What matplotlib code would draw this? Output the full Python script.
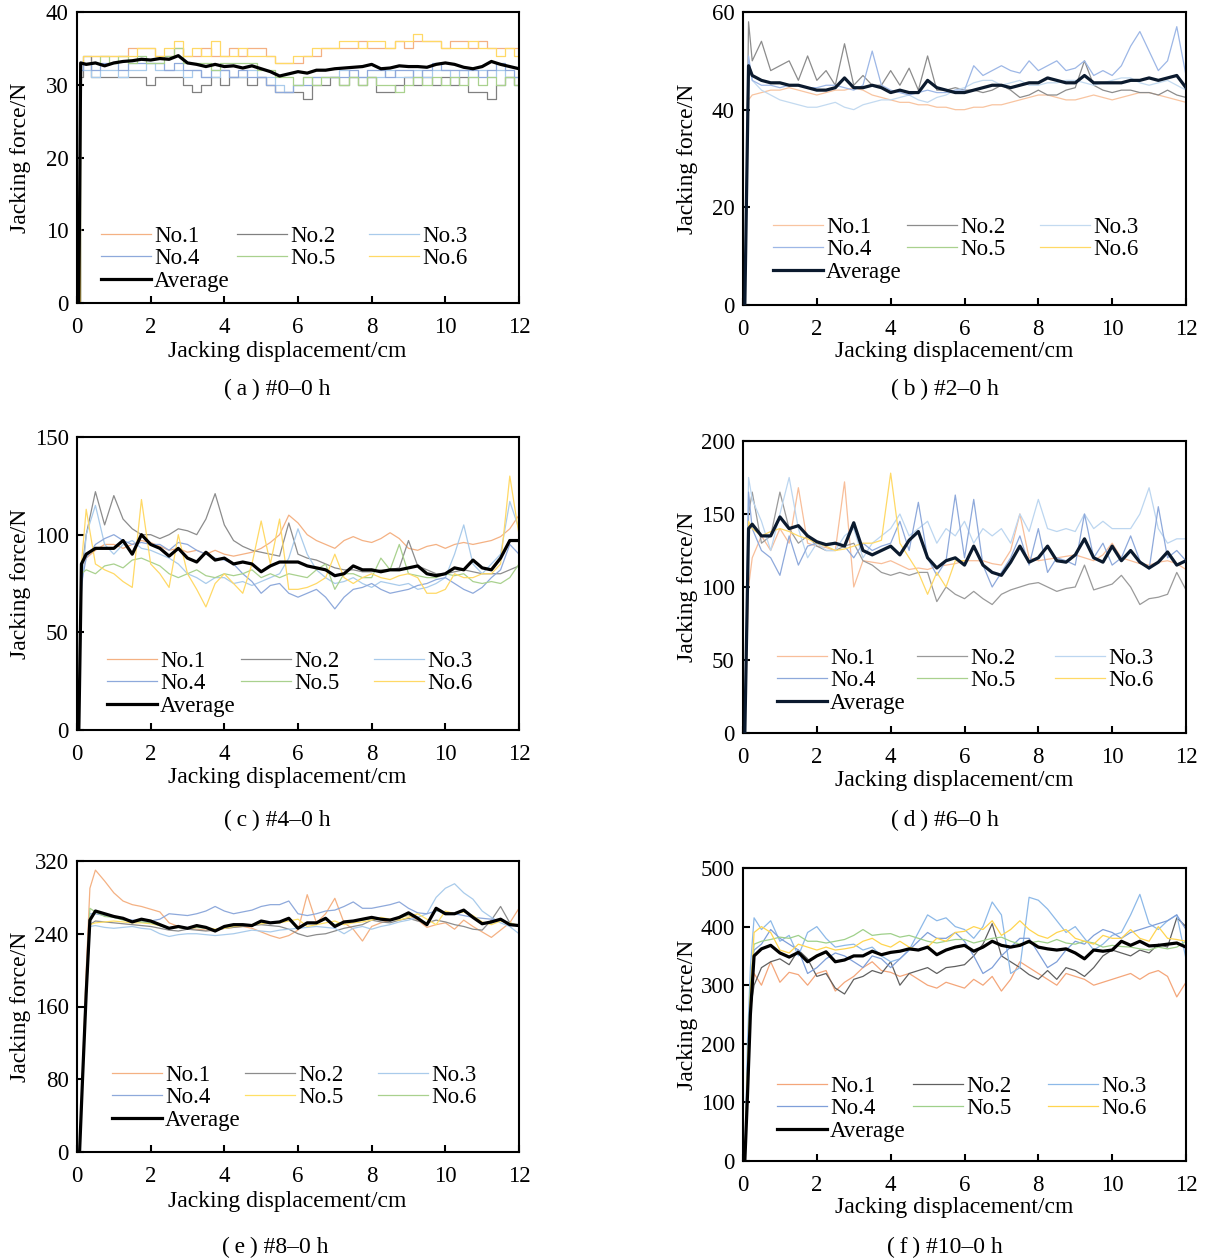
import numpy as np
import matplotlib
matplotlib.use("Agg")
import matplotlib.pyplot as plt

plt.rcParams['font.family'] = ['Liberation Serif', 'DejaVu Serif']
plt.rcParams['font.size'] = 16
nan = np.nan

# ---------------- shared x grids (cm) ----------------
G025 = [round(0.25 * k, 2) for k in range(1, 49)]   # 0.25 .. 12.0
G05 = [round(0.25 * k, 2) for k in range(2, 49)]    # 0.50 .. 12.0
X_A = [0.05, 0.10] + G025
X_B = [0.05, 0.15] + G025
X_C = [0.05, 0.12] + G025
X_D = [0.05, 0.15] + G025
X_E = [0.07, 0.15, 0.25, 0.35] + G05
X_F = [0.05, 0.12, 0.20, 0.30] + G05

LABELS = ["No.1", "No.2", "No.3", "No.4", "No.5", "No.6", "Average"]
CAPTIONS = ["(\u2009a\u2009) #0\u20130 h", "(\u2009b\u2009) #2\u20130 h",
            "(\u2009c\u2009) #4\u20130 h", "(\u2009d\u2009) #6\u20130 h",
            "(\u2009e\u2009) #8\u20130 h", "(\u2009f\u2009) #10\u20130 h"]
XLABEL = "Jacking displacement/cm"
YLABEL = "Jacking force/N"
XTICKS = [0, 2, 4, 6, 8, 10, 12]

# ---------------- (a) #0-0 h ----------------
A1 = [0, 33,
      33, 34, 34, 34, 34, 35, 35, 35, 34, 34,
      35, 34, 34, 35, 34, 34, 35, 34, 35, 35,
      34, 33, 33, 33, 34, 34, 35, 35, 35, 35,
      36, 35, 35, 35, 36, 35, 36, 36, 36, 35,
      36, 36, 35, 36, 35, 35, 35, 35]
A2 = [0, 31,
      34, 31, 31, 31, 31, 31, 31, 30, 31, 31,
      31, 30, 29, 30, 31, 30, 31, 31, 30, 31,
      30, 29, 29, 29, 28, 30, 30, 31, 30, 31,
      30, 31, 29, 29, 30, 31, 30, 31, 30, 31,
      30, 31, 29, 29, 28, 30, 31, 30]
A3 = [0, 32,
      32, 31, 32, 32, 31, 32, 32, 33, 32, 32,
      32, 31, 32, 31, 31, 32, 31, 31, 32, 31,
      31, 30, 29, 30, 31, 31, 31, 31, 32, 31,
      31, 31, 31, 32, 31, 31, 32, 31, 32, 32,
      31, 32, 31, 32, 31, 32, 31, 31]
A4 = [0, 32,
      33, 32, 33, 33, 32, 33, 33, 33, 33, 32,
      33, 32, 32, 31, 32, 32, 31, 32, 31, 31,
      30, 29, 29, 30, 30, 31, 31, 31, 31, 32,
      31, 32, 32, 31, 32, 32, 31, 32, 33, 32,
      32, 32, 32, 31, 32, 33, 32, 31]
A5 = [0, 33,
      33, 33, 34, 33, 34, 33, 34, 33, 33, 34,
      35, 33, 33, 33, 32, 33, 33, 33, 33, 32,
      32, 31, 31, 30, 31, 30, 31, 31, 30, 31,
      30, 31, 30, 30, 29, 30, 31, 30, 31, 30,
      31, 30, 31, 30, 31, 30, 31, 30]
A6 = [0, 33,
      34, 34, 34, 34, 34, 34, 35, 35, 34, 35,
      36, 34, 35, 34, 36, 34, 34, 35, 34, 34,
      34, 33, 33, 34, 34, 35, 35, 35, 36, 36,
      35, 36, 36, 35, 36, 36, 37, 36, 36, 35,
      35, 35, 36, 35, 35, 34, 35, 34]
A_AVG = [0, 33,
         32.8, 33.0, 32.6, 33.0, 33.2, 33.3, 33.5, 33.4, 33.6, 33.5,
         34.0, 33.0, 32.8, 32.5, 32.8, 32.5, 32.6, 32.3, 32.6, 32.2,
         31.8, 31.2, 31.5, 31.8, 31.6, 32.0, 32.0, 32.2, 32.3, 32.4,
         32.5, 32.8, 32.2, 32.3, 32.6, 32.5, 32.5, 32.4, 32.8, 33.0,
         32.8, 32.4, 32.2, 32.5, 33.2, 32.8, 32.5, 32.2]

# ---------------- (b) #2-0 h ----------------
B1 = [0, 42,
      43, 43.5, 44, 44, 44.5, 44, 43.5, 43, 43.5, 44,
      44, 44.5, 44, 43, 42.5, 42, 41.5, 41.5, 41, 41,
      40.5, 40.5, 40, 40, 40.5, 40.5, 41, 41, 41.5, 42,
      42.5, 43, 43, 42.5, 42, 42, 42.5, 43, 42.5, 42,
      42.5, 43, 43.5, 43.5, 43, 42.5, 42, 41.5]
B2 = [0, 58,
      50, 54, 48, 49, 50, 46, 51, 46, 48, 45,
      53.5, 45, 47, 45, 45, 48, 45, 48.5, 44, 51,
      44, 44, 44.5, 44, 44, 43.5, 44, 45, 44, 42.5,
      43, 44, 43, 43, 44, 44.5, 50, 45, 44, 43.5,
      44, 44, 43.5, 43.5, 43, 44, 43, 42.5]
B3 = [0, 50,
      46, 44, 43, 42, 41.5, 41, 40.5, 40.5, 41, 41.5,
      40.5, 40, 41, 41.5, 42, 42, 42.5, 43, 42, 41.5,
      42.5, 43, 44, 44.5, 45.5, 46, 46, 45, 45.5, 46,
      45, 45, 45.5, 45.5, 46, 46, 45.5, 45, 45.5, 46,
      46.5, 46.5, 45.5, 45, 45.5, 46, 45, 44]
B4 = [0, 51,
      46, 45, 45, 44.5, 45, 45, 44.5, 44.5, 45, 45,
      44.5, 44, 45, 52, 45, 44, 43.5, 43, 43.5, 44,
      43.5, 43.5, 44, 44, 49, 47, 48, 49, 48, 47.5,
      50, 48, 49, 50, 48, 48.5, 50, 47, 48, 47,
      49, 53, 56, 52, 48, 50, 57, 47]
B5 = []
B6 = []
B_AVG = [0, 49,
         47, 46, 45.5, 45.5, 45, 45, 44.5, 44, 44, 44.5,
         46.5, 44.5, 44.5, 45, 44.5, 43.5, 44, 43.5, 43.5, 46,
         44.5, 44, 43.5, 43.5, 44, 44.5, 45, 45, 44.5, 45,
         45.5, 45.5, 46.5, 46, 45.5, 45.5, 47, 45.5, 45.5, 45.5,
         45.5, 46, 46, 46.5, 46, 46.5, 47, 44.5]

# ---------------- (c) #4-0 h ----------------
C1 = [0, 80,
      88, 92, 95, 95, 93, 95, 97, 96, 94, 92,
      93, 91, 92, 90, 92, 90, 89, 90, 91, 93,
      96, 100, 110, 106, 100, 97, 95, 93, 97, 99,
      97, 96, 98, 101, 98, 93, 92, 94, 95, 93,
      95, 96, 95, 96, 97, 99, 103, 110]
C2 = [0, 80,
      100, 122, 105, 120, 108, 103, 100, 100, 98, 100,
      103, 102, 100, 108, 121, 105, 97, 94, 92, 91,
      90, 89, 106, 90, 88, 87, 85, 83, 82, 82,
      81, 81, 82, 82, 83, 97, 84, 82, 80, 80,
      81, 82, 81, 80, 80, 80, 82, 84]
C3 = [0, 70,
      100, 115, 95, 90, 95, 97, 93, 92, 90, 88,
      85, 80, 78, 75, 78, 78, 75, 76, 74, 76,
      78, 80, 88, 103, 90, 82, 78, 75, 76, 78,
      75, 73, 76, 75, 74, 75, 72, 73, 75, 78,
      90, 105, 85, 80, 85, 90, 117, 103]
C4 = [0, 75,
      88, 95, 98, 100, 97, 95, 96, 95, 95, 92,
      96, 95, 92, 90, 88, 87, 85, 80, 76, 70,
      74, 75, 70, 68, 70, 72, 68, 62, 68, 72,
      73, 75, 72, 70, 71, 72, 74, 75, 77, 78,
      75, 72, 70, 73, 78, 82, 95, 90]
C5 = [0, 80,
      82, 80, 84, 85, 83, 87, 88, 86, 84, 80,
      78, 80, 82, 79, 78, 80, 79, 80, 82, 78,
      80, 78, 80, 79, 78, 82, 85, 72, 80, 80,
      78, 78, 88, 82, 95, 80, 79, 78, 78, 80,
      79, 80, 76, 75, 76, 75, 78, 85]
C6 = [0, 85,
      113, 85, 82, 80, 76, 73, 118, 85, 80, 73,
      100, 80, 72, 63, 75, 80, 75, 70, 85, 107,
      85, 108, 72, 72, 73, 75, 78, 90, 78, 75,
      78, 80, 78, 77, 79, 80, 78, 70, 70, 72,
      80, 78, 78, 80, 80, 85, 130, 100]
C_AVG = [0, 85,
         90, 93, 93, 93, 97, 90, 100, 95, 93, 89,
         93, 88, 86, 91, 87, 88, 85, 86, 85, 81,
         84, 86, 86, 86, 84, 83, 82, 79, 80, 84,
         82, 82, 81, 82, 82, 83, 84, 80, 79, 80,
         83, 82, 87, 83, 82, 88, 97, 97]

# ---------------- (d) #6-0 h ----------------
D1 = [0, 100,
      120, 135, 125, 140, 130, 168, 130, 128, 127, 125,
      172, 100, 118, 117, 116, 118, 115, 112, 113, 112,
      114, 115, 116, 118, 118, 118, 116, 115, 125, 150,
      120, 118, 119, 120, 121, 122, 120, 118, 122, 130,
      120, 118, 116, 115, 117, 118, 116, 112]
D2 = [0, 150,
      165, 130, 135, 165, 140, 130, 135, 128, 125, 125,
      128, 130, 118, 115, 110, 108, 110, 108, 110, 110,
      90, 100, 95, 92, 97, 92, 88, 95, 98, 100,
      102, 103, 100, 97, 99, 100, 115, 98, 100, 102,
      108, 100, 88, 92, 93, 95, 110, 98]
D3 = [0, 175,
      160, 145, 125, 150, 175, 140, 120, 130, 125, 125,
      135, 140, 120, 130, 135, 140, 150, 135, 140, 145,
      130, 140, 135, 145, 130, 140, 135, 140, 130, 150,
      138, 160, 140, 138, 140, 138, 150, 140, 145, 140,
      140, 140, 150, 168, 140, 130, 133, 133]
D4 = [0, 165,
      140, 125, 120, 108, 135, 115, 128, 130, 128, 130,
      128, 120, 130, 125, 128, 130, 145, 125, 158, 120,
      108, 118, 163, 120, 160, 115, 100, 110, 120, 135,
      115, 140, 110, 120, 118, 115, 150, 120, 130, 115,
      120, 135, 118, 112, 155, 120, 125, 118]
D5 = []
D6 = [0, 145,
      140, 135, 138, 140, 138, 135, 133, 130, 128, 125,
      126, 128, 130, 130, 132, 178, 130, 120, 110, 95,
      110, 100, 118, 118, nan, nan, nan, nan, nan, nan,
      nan, nan, nan, nan, nan, nan, nan, nan, nan, nan,
      nan, nan, nan, nan, nan, nan, nan, nan]
D_AVG = [0, 140,
         143, 135, 135, 148, 140, 142, 135, 131, 129, 130,
         128, 144, 125, 122, 125, 128, 122, 132, 138, 120,
         113, 118, 120, 115, 128, 115, 110, 108, 117, 128,
         117, 120, 128, 118, 117, 122, 133, 120, 117, 128,
         118, 125, 117, 113, 117, 124, 115, 118]

# ---------------- (e) #8-0 h ----------------
E1 = [0, 90, 200, 290,
      310, 298, 285, 276, 272, 270, 267, 264, 252, 248,
      246, 245, 244, 243, 246, 247, 248, 246, 242, 238,
      235, 238, 244, 283, 252, 262, 279, 252, 245, 232,
      248, 252, 255, 258, 260, 255, 247, 250, 252, 245,
      255, 248, 242, 236, 244, 252, 268]
E2 = [0, 80, 170, 250,
      254, 253, 252, 251, 250, 249, 248, 246, 244, 243,
      245, 244, 243, 244, 246, 247, 248, 249, 250, 249,
      248, 245, 240, 237, 239, 240, 243, 246, 248, 250,
      255, 253, 252, 255, 257, 254, 252, 255, 253, 250,
      248, 245, 244, 255, 270, 252, 248]
E3 = [0, 80, 170, 248,
      249, 247, 246, 247, 248, 246, 245, 240, 237, 239,
      240, 240, 239, 238, 239, 240, 242, 244, 243, 242,
      244, 245, 246, 247, 248, 247, 246, 240, 246, 248,
      245, 248, 250, 253, 255, 258, 262, 280, 290, 295,
      285, 278, 265, 258, 252, 248, 240]
E4 = [0, 85, 180, 262,
      262, 260, 258, 256, 255, 254, 254, 256, 262, 261,
      260, 262, 265, 270, 265, 262, 264, 266, 270, 272,
      272, 276, 262, 260, 262, 265, 266, 270, 275, 268,
      268, 270, 272, 275, 268, 263, 262, 265, 264, 262,
      260, 258, 257, 256, 255, 252, 248]
E5 = [0, 80, 170, 250,
      252, 253, 254, 253, 252, 252, 251, 249, 246, 247,
      246, 247, 247, 245, 246, 248, 249, 250, 251, 252,
      252, 254, 256, 248, 250, 252, 254, 250, 252, 253,
      255, 258, 256, 255, 258, 262, 256, 250, 265, 262,
      264, 260, 253, 250, 254, 252, 249]
E6 = [0, 85, 180, 268,
      264, 259, 258, 255, 254, 253, 252, 249, 246, 247,
      246, 247, 246, 243, 247, 249, 250, 249, 253, 252,
      253, 256, 246, 251, 252, 256, 250, 253, 254, 255,
      257, 256, 255, 257, 261, 257, 251, 266, 262, 262,
      265, 258, 251, 252, 256, 251, 249]
E_AVG = [0, 80, 175, 255,
         265, 262, 259, 257, 253, 256, 254, 250, 246, 248,
         246, 249, 247, 243, 248, 250, 250, 249, 254, 252,
         253, 257, 246, 252, 252, 257, 248, 253, 254, 256,
         258, 256, 255, 258, 263, 257, 250, 268, 262, 262,
         266, 258, 251, 253, 256, 250, 249]

# ---------------- (f) #10-0 h ----------------
F1 = [0, 120, 250, 320,
      300, 340, 305, 322, 318, 300, 320, 325, 290, 305,
      315, 330, 340, 325, 322, 315, 320, 310, 300, 295,
      305, 300, 295, 310, 300, 315, 290, 310, 340, 330,
      320, 310, 300, 320, 315, 310, 300, 305, 310, 315,
      320, 310, 320, 325, 315, 280, 305]
F2 = [0, 140, 260, 300,
      330, 340, 345, 335, 360, 345, 315, 320, 295, 285,
      310, 315, 325, 320, 340, 300, 320, 325, 330, 320,
      330, 332, 335, 350, 370, 405, 350, 340, 330, 318,
      310, 325, 310, 330, 325, 315, 330, 350, 360, 355,
      350, 360, 355, 370, 365, 415, 400]
F3 = [0, 200, 330, 415,
      395, 410, 375, 385, 350, 390, 400, 380, 365, 368,
      370, 360, 365, 350, 340, 345, 360, 390, 420, 410,
      415, 400, 395, 380, 400, 442, 420, 320, 330, 450,
      445, 430, 410, 390, 400, 380, 360, 370, 385, 390,
      420, 455, 405, 395, 410, 420, 345]
F4 = [0, 160, 300, 360,
      370, 395, 380, 370, 360, 320, 330, 345, 355, 350,
      340, 330, 350, 345, 330, 345, 360, 375, 390, 380,
      380, 390, 375, 350, 320, 330, 350, 365, 380, 380,
      355, 330, 340, 360, 375, 370, 385, 395, 390, 380,
      390, 395, 400, 405, 410, 420, 395]
F5 = [0, 150, 300, 370,
      375, 378, 382, 380, 385, 375, 375, 372, 375, 378,
      385, 395, 385, 387, 388, 382, 385, 380, 375, 372,
      375, 378, 378, 372, 376, 380, 382, 375, 370, 372,
      375, 372, 378, 372, 370, 375, 372, 365, 368, 366,
      365, 362, 360, 365, 362, 365, 375]
F6 = [0, 150, 280, 390,
      400, 390, 360, 355, 370, 365, 360, 365, 360, 362,
      365, 375, 380, 370, 365, 375, 365, 360, 365, 380,
      375, 390, 392, 400, 395, 410, 385, 395, 410, 395,
      385, 380, 390, 395, 380, 375, 370, 385, 380, 380,
      395, 380, 375, 400, 380, 378, 375]
F_AVG = [0, 110, 250, 350,
         362, 368, 355, 348, 356, 340, 350, 357, 340, 343,
         350, 350, 358, 352, 356, 358, 362, 360, 365, 352,
         360, 365, 368, 358, 365, 375, 368, 365, 368, 375,
         365, 362, 360, 362, 355, 345, 360, 358, 360, 375,
         368, 375, 367, 368, 370, 372, 365]

YLIMS = [40, 60, 150, 200, 320, 500]
YTICKS = [[0, 10, 20, 30, 40], [0, 20, 40, 60], [0, 50, 100, 150],
          [0, 50, 100, 150, 200], [0, 80, 160, 240, 320],
          [0, 100, 200, 300, 400, 500]]

# ---------------- styling / layout (not data) ----------------
W, H = 1209, 1259
COL_DEFAULT = ['#F4B183', '#8C8C8C', '#A9CBEB', '#8EA9DB', '#A9D18E', '#FFD966']
COLORS = [
    ['#F4B183', '#808080', '#A9CBEB', '#8EA9DB', '#A9D18E', '#FFD966'],
    ['#F8C4A0', '#8C8C8C', '#C3DAF0', '#9DB7E6', '#A9D18E', '#FFD966'],
    COL_DEFAULT,
    ['#F8BE9A', '#9A9A9A', '#BCD6F0', '#8EA9DB', '#A9D18E', '#FFD966'],
    ['#F4B183', '#8C8C8C', '#A9CBEB', '#8EA9DB', '#FFE066', '#A9D18E'],
    ['#F4A67A', '#606060', '#8DB9E8', '#7F9FD9', '#9FD08A', '#FFD54F'],
]
AVG_COLORS = ['#000000', '#0B1A2E', '#000000', '#0B1A2E', '#000000', '#000000']
AX_BOX = [(77, 12, 519, 303), (743, 12, 1186, 305), (77, 437, 519, 730),
          (743, 441, 1186, 733), (77, 861, 519, 1152), (743, 868, 1186, 1161)]
LEG_COLS = [[24, 160, 292], [30, 164, 297], [30, 164, 297],
            [34, 174, 312], [35, 168, 301], [34, 170, 305]]
LEG_ROW1 = [235, 226, 660, 657, 1074, 1085]
CAP_POS = [(277, 389), (945, 389), (277, 820), (945, 820), (275, 1247), (945, 1247)]
XLAB_POS = [(287, 352), (954, 352), (287, 778), (954, 781), (287, 1201), (954, 1208)]
YLAB_X = [21, 687, 21, 687, 21, 687]
FS_LAB = 17
FS_TICK = 16.5
FS_LEG = 16.5

PANELS = [
    (X_A, [A1, A2, A3, A4, A5, A6], A_AVG),
    (X_B, [B1, B2, B3, B4, B5, B6], B_AVG),
    (X_C, [C1, C2, C3, C4, C5, C6], C_AVG),
    (X_D, [D1, D2, D3, D4, D5, D6], D_AVG),
    (X_E, [E1, E2, E3, E4, E5, E6], E_AVG),
    (X_F, [F1, F2, F3, F4, F5, F6], F_AVG),
]

fig = plt.figure(figsize=(W / 100, H / 100), dpi=100)

for i, (xs, series, avg) in enumerate(PANELS):
    l, t, r, b = AX_BOX[i]
    aw, ah = r - l, b - t
    ax = fig.add_axes([l / W, 1 - b / H, aw / W, ah / H])
    handles = []
    for j, ys in enumerate(series):
        xx = xs if len(ys) else []
        if len(ys):
            assert len(ys) == len(xs), (i, j, len(ys), len(xs))
        kw = dict(drawstyle='steps-mid') if i == 0 else {}
        h, = ax.plot(xx, ys, color=COLORS[i][j], lw=0.9, label=LABELS[j], **kw)
        handles.append(h)
    assert len(avg) == len(xs), (i, 'avg', len(avg))
    h, = ax.plot(xs, avg, color=AVG_COLORS[i], lw=2.3, label=LABELS[6], zorder=5)
    handles.append(h)

    ax.set_xlim(0, 12)
    ax.set_ylim(0, YLIMS[i])
    ax.set_xticks(XTICKS)
    ax.set_yticks(YTICKS[i])
    for s in ax.spines.values():
        s.set_linewidth(1.5)
    ax.tick_params(direction='in', length=5, width=1.5, labelsize=FS_TICK,
                   top=False, right=False)
    ax.tick_params(axis='x', pad=10)
    ax.tick_params(axis='y', pad=6)

    ax.set_xlabel(XLABEL, fontsize=FS_LAB)
    ax.xaxis.label.set_va('center')
    ax.xaxis.set_label_coords((XLAB_POS[i][0] - l) / aw, -(XLAB_POS[i][1] - b) / ah)
    ax.set_ylabel(YLABEL, fontsize=FS_LAB)
    ax.yaxis.label.set_va('center')
    ax.yaxis.set_label_coords((YLAB_X[i] - l) / aw, 0.5)

    # legend: three columns, row-wise order as in the figure
    cols = [[0, 3, 6], [1, 4], [2, 5]]
    top_px = LEG_ROW1[i] - 9.5
    legs = []
    for c, idxs in enumerate(cols):
        leg = ax.legend([handles[k] for k in idxs], [LABELS[k] for k in idxs],
                        loc='upper left',
                        bbox_to_anchor=(LEG_COLS[i][c] / aw, (b - top_px) / ah),
                        frameon=False, borderpad=0, borderaxespad=0,
                        handlelength=2.2, handletextpad=0.12,
                        labelspacing=0.08, fontsize=FS_LEG)
        legs.append(leg)
    for leg in legs[:-1]:
        ax.add_artist(leg)

    fig.text(CAP_POS[i][0] / W, 1 - CAP_POS[i][1] / H, CAPTIONS[i],
             ha='center', va='center', fontsize=FS_LAB)

fig.savefig('out.png', dpi=100)
